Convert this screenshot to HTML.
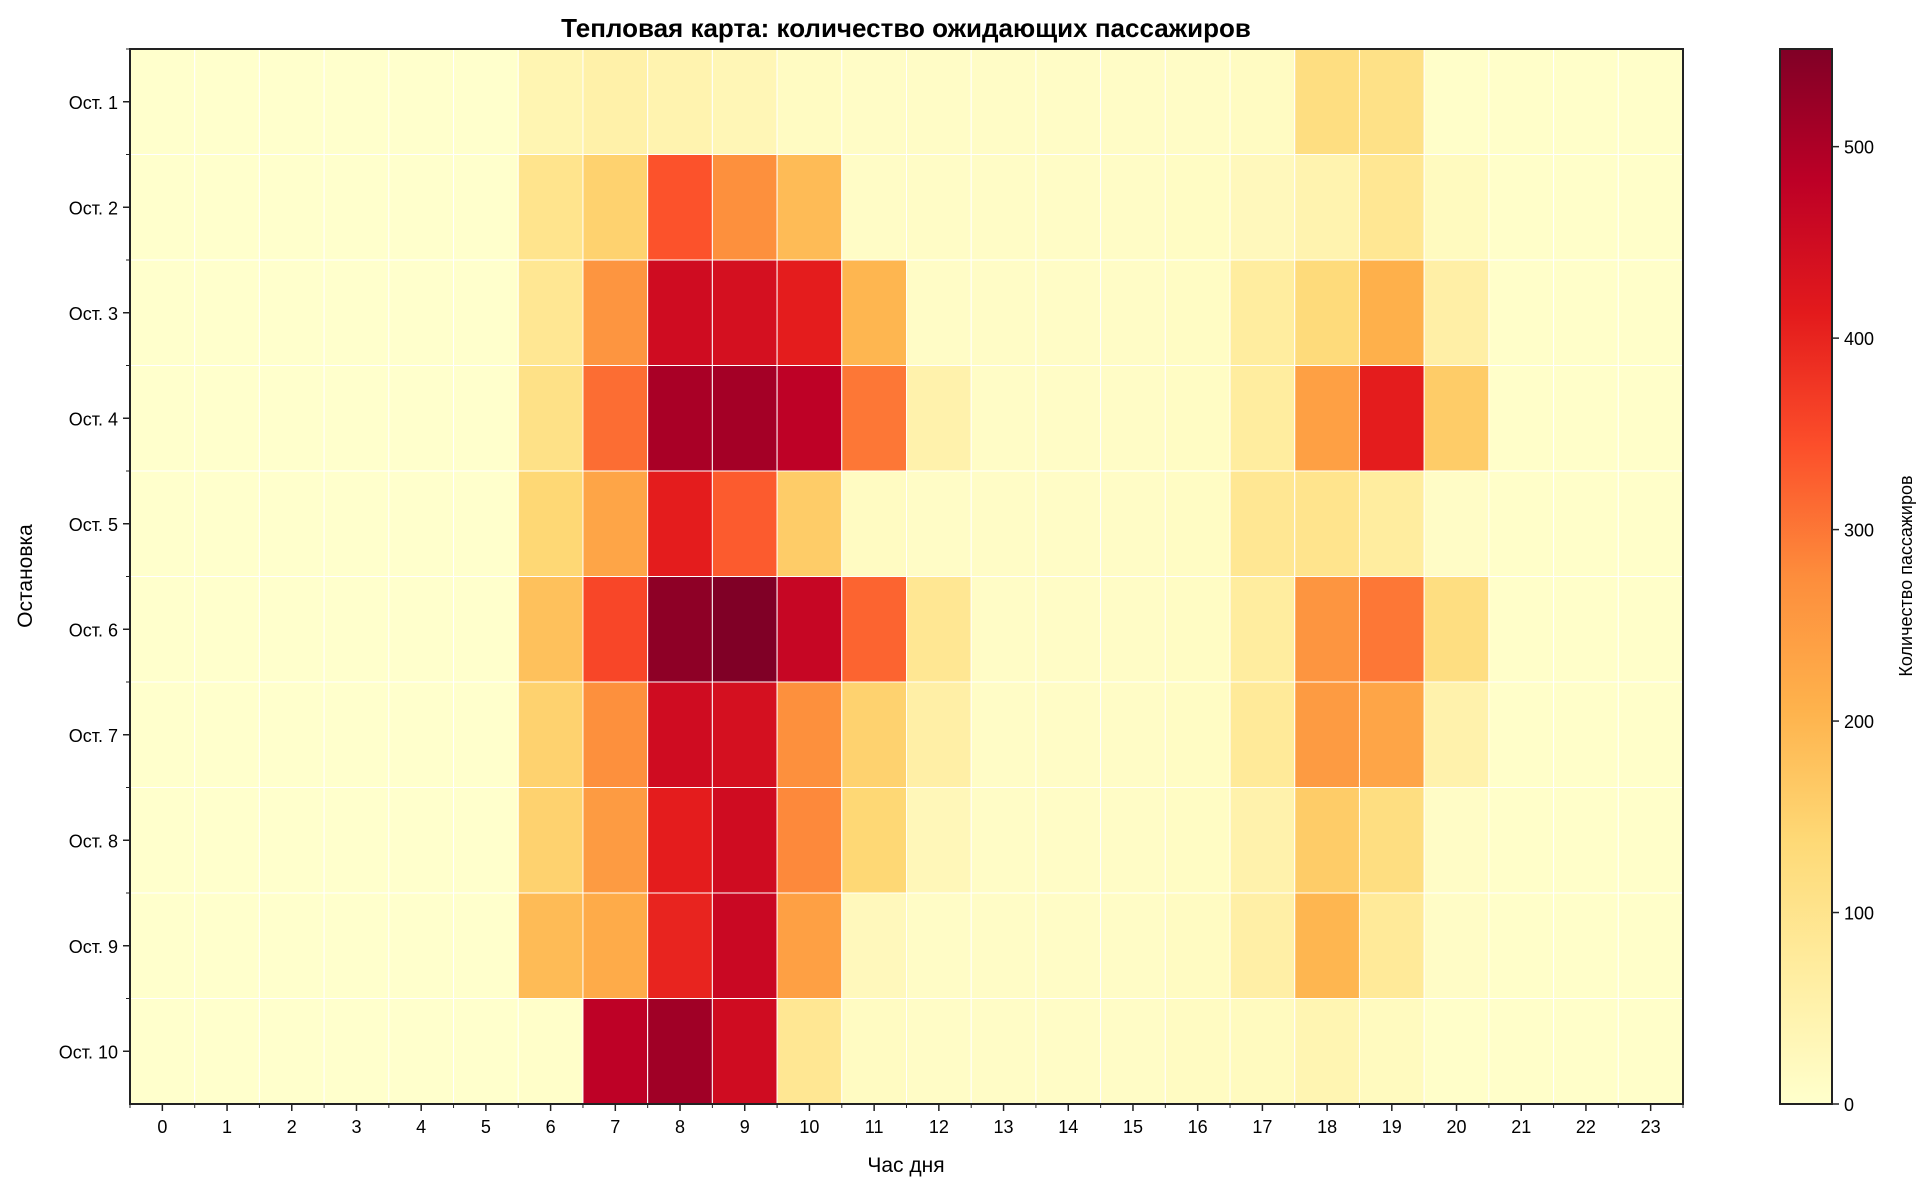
<!DOCTYPE html>
<html><head><meta charset="utf-8">
<style>
body{margin:0;background:#fff;}
svg text{font-family:"Liberation Sans","DejaVu Sans",sans-serif;fill:#000;}
</style></head>
<body>
<svg id="chart" width="1924" height="1184" xmlns="http://www.w3.org/2000/svg">
<text x="906" y="37" text-anchor="middle" font-size="26" font-weight="bold">Тепловая карта: количество ожидающих пассажиров</text>
<text x="906" y="1172" text-anchor="middle" font-size="21">Час дня</text>
<text transform="translate(32,576) rotate(-90)" text-anchor="middle" font-size="21">Остановка</text>
<text transform="translate(1912,576) rotate(-90)" text-anchor="middle" font-size="18">Количество пассажиров</text>
<g id="cells"></g>
<g id="axes"></g>
<g id="cbar"></g>
</svg>
<script>
const hours = [0,1,2,3,4,5,6,7,8,9,10,11,12,13,14,15,16,17,18,19,20,21,22,23];
const stops = ["Ост. 1","Ост. 2","Ост. 3","Ост. 4","Ост. 5","Ост. 6","Ост. 7","Ост. 8","Ост. 9","Ост. 10"];
const row1  = [0,0,0,0,0,0,40,55,45,35,15,10,10,10,10,10,10,15,120,110,5,5,5,5];
const row2  = [0,0,0,0,0,0,100,150,340,270,190,10,10,10,10,10,12,25,45,90,20,5,5,5];
const row3  = [0,0,0,0,0,0,90,260,450,440,410,200,10,10,10,10,12,70,130,210,60,5,5,5];
const row4  = [0,0,0,0,0,0,110,310,505,510,480,300,50,10,10,10,12,70,240,410,160,5,5,5];
const row5  = [0,0,0,0,0,0,140,230,410,330,160,15,10,10,10,10,12,90,100,70,10,5,5,5];
const row6  = [0,0,0,0,0,0,180,355,535,551,465,320,90,10,10,10,12,70,260,300,120,5,5,5];
const row7  = [0,0,0,0,0,0,150,270,450,440,270,150,60,10,10,10,12,80,250,230,50,5,5,5];
const row8  = [0,0,0,0,0,0,150,250,410,450,280,140,30,10,10,10,12,50,160,120,10,5,5,5];
const row9  = [0,0,0,0,0,0,190,220,400,460,240,25,10,10,10,10,15,60,200,80,10,5,5,5];
const row10 = [0,0,0,0,0,0,5,480,515,450,90,15,10,10,10,10,15,20,40,20,5,5,5,5];
const values = [row1,row2,row3,row4,row5,row6,row7,row8,row9,row10];
const cbTicks = [0,100,200,300,400,500];
const vmax = 551;

const L=130, R=1683, T=49, B=1104;
const cw=(R-L)/hours.length, ch=(B-T)/stops.length;
const xS = i => L + i*cw;
const yS = j => T + j*ch;
const NS="http://www.w3.org/2000/svg";
const stopsC=["#ffffcc","#ffeda0","#fed976","#feb24c","#fd8d3c","#fc4e2a","#e31a1c","#bd0026","#800026"];
function hex(h){return [1,3,5].map(k=>parseInt(h.substr(k,2),16));}
function cmap(v){let t=Math.max(0,Math.min(1,v/vmax))*(stopsC.length-1);let i=Math.min(Math.floor(t),stopsC.length-2);let f=t-i;
 const a=hex(stopsC[i]),b=hex(stopsC[i+1]);return "rgb("+a.map((c,k)=>Math.round(c+(b[k]-c)*f)).join(",")+")";}
function mk(tag,attrs,parent){const e=document.createElementNS(NS,tag);for(const k in attrs)e.setAttribute(k,attrs[k]);parent.appendChild(e);return e;}
const cells=document.getElementById('cells'), axes=document.getElementById('axes'), cbar=document.getElementById('cbar');
values.forEach((row,j)=>row.forEach((v,i)=>{
 const r=mk('rect',{x:xS(i),y:yS(j),width:cw,height:ch,fill:cmap(v),stroke:'#fff','stroke-width':1},cells);
 
 
}));
mk('rect',{x:L,y:T,width:R-L,height:B-T,fill:'none',stroke:'#222','stroke-width':2},axes);
hours.forEach((h,i)=>{
 mk('line',{x1:xS(i+0.5),x2:xS(i+0.5),y1:B,y2:B+7,stroke:'#222','stroke-width':1.5},axes);
 mk('line',{x1:xS(i),x2:xS(i),y1:B,y2:B+4,stroke:'#222','stroke-width':1},axes);
 const t=mk('text',{x:xS(i+0.5),y:B+29,'text-anchor':'middle','font-size':18},axes);t.textContent=h;
 
 
});
mk('line',{x1:R,x2:R,y1:B,y2:B+4,stroke:'#222','stroke-width':1},axes);
stops.forEach((s,j)=>{
 mk('line',{x1:L-7,x2:L,y1:yS(j+0.5),y2:yS(j+0.5),stroke:'#222','stroke-width':1.5},axes);
 mk('line',{x1:L-4,x2:L,y1:yS(j),y2:yS(j),stroke:'#222','stroke-width':1},axes);
 const t=mk('text',{x:L-12,y:yS(j+0.5)+7,'text-anchor':'end','font-size':18},axes);t.textContent=s;
 
 
});
const cx0=1780,cx1=1832;
const defs=mk('defs',{},cbar);
const g=mk('linearGradient',{id:'cg',x1:0,y1:1,x2:0,y2:0},defs);
stopsC.forEach((c,k)=>mk('stop',{offset:k/(stopsC.length-1),'stop-color':c},g));
mk('rect',{x:cx0,y:T,width:cx1-cx0,height:B-T,fill:'url(#cg)',stroke:'#222','stroke-width':2},cbar);
cbTicks.forEach(v=>{
 const y=B-(v/vmax)*(B-T);
 mk('line',{x1:cx1,x2:cx1+7,y1:y,y2:y,stroke:'#222','stroke-width':1.5},cbar);
 const t=mk('text',{x:cx1+12,y:y+7,'font-size':18},cbar);t.textContent=v;
 
 
});
</script>
</body></html>
